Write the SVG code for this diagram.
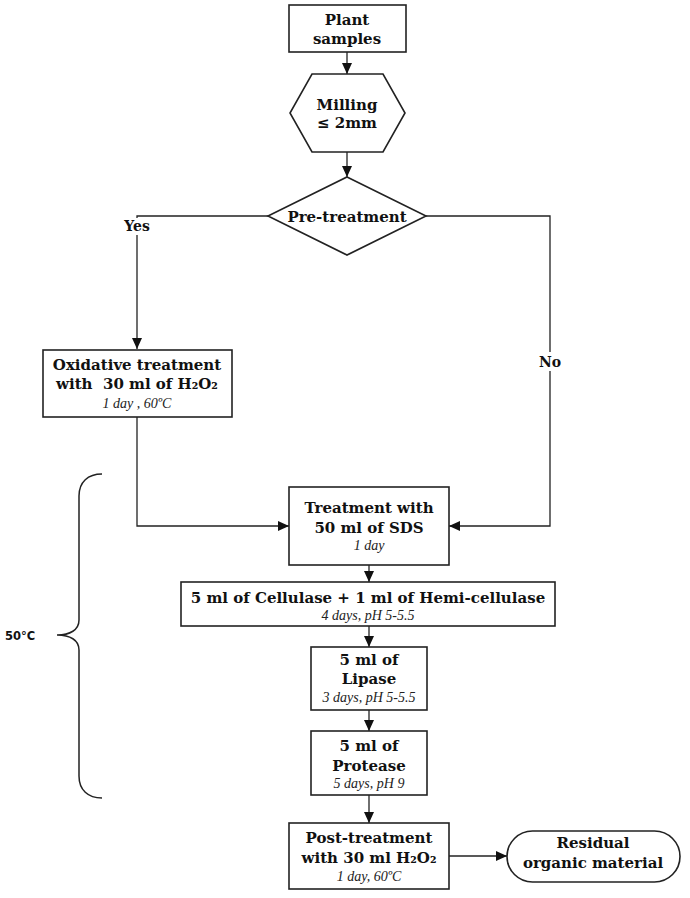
<svg xmlns="http://www.w3.org/2000/svg" width="690" height="898" viewBox="0 0 690 898">
<style>
.box{fill:#fff;stroke:#222;stroke-width:1.6}
.t{font-family:"DejaVu Serif","Liberation Serif",serif;font-weight:bold;font-size:15px;fill:#111;text-anchor:middle}
.i{font-family:"Liberation Serif","DejaVu Serif",serif;font-style:italic;font-size:14px;fill:#222;text-anchor:middle}
.c{fill:none;stroke:#222;stroke-width:1.3}
.lbl{font-family:"DejaVu Serif","Liberation Serif",serif;font-weight:bold;font-size:14px;fill:#111;text-anchor:middle}
</style>
<defs>
<marker id="ah" markerUnits="userSpaceOnUse" markerWidth="12" markerHeight="10" refX="11" refY="5" orient="auto">
<path d="M0,0 L11,5 L0,10 Z" fill="#111"/>
</marker>
</defs>
<rect width="690" height="898" fill="#fff"/>
<g id="connectors">
<path class="c" d="M347,52 V74" marker-end="url(#ah)"/>
<path class="c" d="M347,152 V177" marker-end="url(#ah)"/>
<path class="c" d="M268,216 H137 V349" marker-end="url(#ah)"/>
<path class="c" d="M426,216 H550 V526 H449" marker-end="url(#ah)"/>
<path class="c" d="M137,417 V526 H289" marker-end="url(#ah)"/>
<path class="c" d="M369,565 V582" marker-end="url(#ah)"/>
<path class="c" d="M369,626 V647" marker-end="url(#ah)"/>
<path class="c" d="M369,710 V731" marker-end="url(#ah)"/>
<path class="c" d="M369,795 V823" marker-end="url(#ah)"/>
<path class="c" d="M449,856 H507" marker-end="url(#ah)"/>
<rect x="120" y="218" width="35" height="17" fill="#fff"/>
<text class="lbl" x="137" y="231">Yes</text>
<rect x="536" y="352" width="28" height="19" fill="#fff"/>
<text class="lbl" x="550" y="367">No</text>
</g>
<g id="plant">
<rect class="box" x="289" y="5" width="117" height="47"/>
<text class="t" x="347" y="25">Plant</text>
<text class="t" x="347" y="44">samples</text>
</g>
<g id="milling">
<polygon class="box" points="312,74 383,74 405,113 383,152 312,152 290,113"/>
<text class="t" x="347" y="110">Milling</text>
<text class="t" x="347" y="128">≤ 2mm</text>
</g>
<g id="pretreatment">
<polygon class="box" points="347,177 426,216 347,255 268,216"/>
<text class="t" x="347" y="222">Pre-treatment</text>
</g>
<g id="oxidative">
<rect class="box" x="43" y="350" width="189" height="67"/>
<text class="t" x="137" y="370">Oxidative treatment</text>
<text class="t" x="137" y="389" xml:space="preserve">with  30 ml of H₂O₂</text>
<text class="i" x="137" y="408">1 day , 60ºC</text>
</g>
<g id="sds">
<rect class="box" x="289" y="487" width="160" height="78"/>
<text class="t" x="369" y="513">Treatment with</text>
<text class="t" x="369" y="533">50 ml of SDS</text>
<text class="i" x="369" y="550">1 day</text>
</g>
<g id="cellulase">
<rect class="box" x="181" y="582" width="374" height="44"/>
<text class="t" x="368" y="603">5 ml of Cellulase + 1 ml of Hemi-cellulase</text>
<text class="i" x="368" y="620">4 days, pH 5-5.5</text>
</g>
<g id="lipase">
<rect class="box" x="311" y="647" width="116" height="63"/>
<text class="t" x="369" y="665">5 ml of</text>
<text class="t" x="369" y="684">Lipase</text>
<text class="i" x="369" y="702">3 days, pH 5-5.5</text>
</g>
<g id="protease">
<rect class="box" x="311" y="731" width="116" height="64"/>
<text class="t" x="369" y="751">5 ml of</text>
<text class="t" x="369" y="771">Protease</text>
<text class="i" x="369" y="788">5 days, pH 9</text>
</g>
<g id="posttreatment">
<rect class="box" x="289" y="823" width="160" height="66"/>
<text class="t" x="369" y="843">Post-treatment</text>
<text class="t" x="369" y="863">with 30 ml H₂O₂</text>
<text class="i" x="369" y="881">1 day, 60ºC</text>
</g>
<g id="residual">
<rect class="box" x="507" y="831" width="173" height="51" rx="25.5" ry="25.5"/>
<text class="t" x="593" y="848">Residual</text>
<text class="t" x="593" y="868">organic material</text>
</g>
<g id="bracket">
<path d="M102,474 C88,474 79,482 79,496 V620 C79,630 70,635 57,635 C70,635 79,640 79,650 V776 C79,790 88,798 102,798" fill="none" stroke="#222" stroke-width="1.5"/>
<text x="5" y="640" font-family="'DejaVu Sans',Verdana,sans-serif" font-weight="bold" font-size="11.5" fill="#111">50°C</text>
</g>
</svg>
